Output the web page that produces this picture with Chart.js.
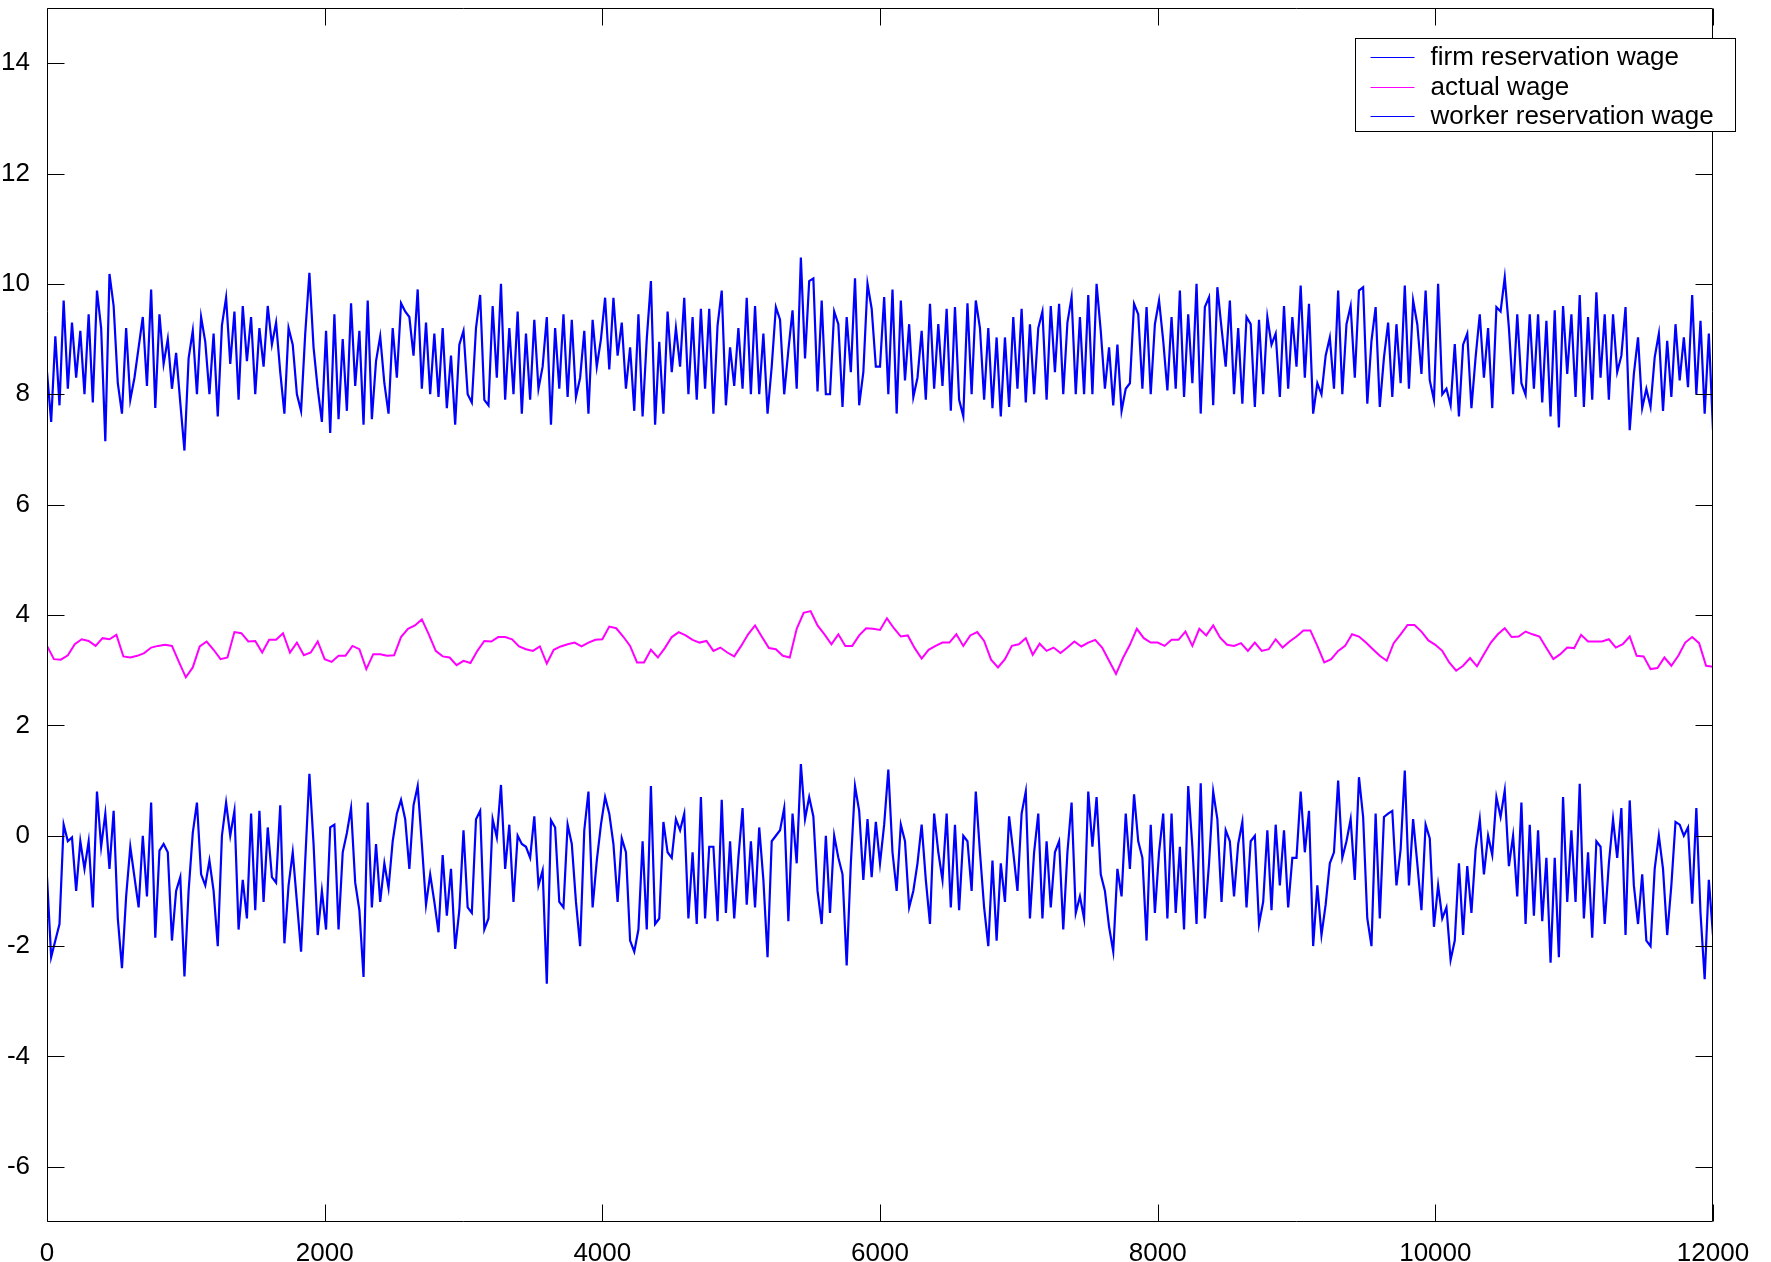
<!DOCTYPE html>
<html>
<head>
<meta charset="utf-8">
<title>wages</title>
<script src="https://cdn.jsdelivr.net/npm/chart.js@4.4.1/dist/chart.umd.min.js"></script>
<style>
  html, body { margin: 0; padding: 0; background: #fff; }
  canvas { display: block; }
</style>
</head>
<body>
<canvas id="wage-chart" width="1771" height="1262"></canvas>
<script>
// axis ticks
const xTicks = [0, 2000, 4000, 6000, 8000, 10000, 12000];
const yTicks = [-6, -4, -2, 0, 2, 4, 6, 8, 10, 12, 14];

const seriesNames = ['firm reservation wage', 'actual wage', 'worker reservation wage'];

// sampling step (periods) of the values
const wageStep = 30;
const actualStep = 50;

const firmWage = [
  8.4, 7.5, 9.05,
  7.8, 9.7, 8.1, 9.3, 8.3, 9.15, 8.0, 9.45, 7.85, 9.88, 9.2, 7.15,
  10.18, 9.6, 8.2, 7.65, 9.2, 7.9, 8.3, 8.85, 9.4, 8.15, 9.9, 7.75,
  9.45, 8.55, 9.0, 8.1, 8.75, 7.85, 6.98, 8.65, 9.15, 8.0, 9.4, 8.95,
  8.0, 9.1, 7.6, 9.25, 9.75, 8.55, 9.5, 7.9, 9.6, 8.6, 9.4, 8.0,
  9.2, 8.5, 9.6, 8.9, 9.3, 8.4, 7.65, 9.2, 8.9, 8.0, 7.7, 9.1,
  10.2, 8.85, 8.1, 7.5, 9.15, 7.3, 9.45, 7.55, 9.0, 7.7, 9.65, 8.15,
  9.15, 7.45, 9.7, 7.55, 8.6, 9.05, 8.2, 7.65, 9.2, 8.3, 9.65, 9.5,
  9.4, 8.7, 9.9, 8.1, 9.3, 8.0, 9.1, 7.95, 9.2, 7.75, 8.7, 7.45,
  8.9,
  9.15, 8.0, 7.85, 9.2, 9.8, 7.9, 7.8, 9.6, 8.3, 10.0, 7.9, 9.2,
  8.0, 9.5, 7.65, 9.1, 7.9, 9.35, 8.1, 8.5, 9.4, 7.45, 9.2, 8.1,
  9.45, 7.95, 9.35, 7.95, 8.3, 9.15, 7.65, 9.35, 8.5, 9.0, 9.75, 8.45,
  9.75, 8.7, 9.3, 8.1, 8.85, 7.7, 9.45, 7.6, 9.0, 10.05, 7.45, 8.95,
  7.65, 9.5, 8.4, 9.2, 8.5, 9.75, 8.0, 9.4, 7.9, 9.55, 8.1, 9.55,
  7.65, 9.25, 9.88, 7.8, 8.85, 8.15, 9.2, 8.1, 9.75, 8.0, 9.6, 8.0,
  9.1, 7.65, 8.5, 9.58, 9.35, 8.0, 8.8, 9.52, 8.1, 10.48, 8.65, 10.05,
  10.1, 8.05, 9.7, 8.0, 8.0, 9.5, 9.27, 7.77, 9.4, 8.4, 10.1, 7.8,
  8.4, 10.0, 9.55, 8.5,
  8.5, 9.76, 8.0, 9.9, 7.65, 9.7, 8.25, 9.27, 7.95, 8.3, 9.15, 7.9,
  9.64, 8.1, 9.27, 8.15, 9.55, 7.7, 9.58, 7.9, 7.6, 9.65, 8.0, 9.7,
  9.2, 7.9, 9.2, 7.75, 9.03, 7.6, 9.03, 7.77, 9.4, 8.1, 9.55, 7.85,
  9.27, 8.0, 9.2, 9.5, 7.9, 9.6, 8.4, 9.64, 8.0, 9.3, 9.76, 8.0,
  9.4, 8.0, 9.8, 8.0, 10.0, 9.15, 8.1, 8.85, 7.8, 8.9, 7.7, 8.1,
  8.2, 9.64, 9.45, 8.1, 9.58, 8.0, 9.27, 9.7, 8.97, 8.07, 9.4, 8.1,
  9.88, 7.95, 9.45, 8.2, 10.0, 7.65, 9.58, 9.76, 7.8, 9.94, 9.2, 8.5,
  9.7, 8.0, 9.2, 7.83, 9.4, 9.27, 7.77, 9.35, 8.0, 9.4, 8.9, 9.1,
  7.95, 9.6, 8.1, 9.4,
  8.5,
  9.97, 8.3, 9.64, 7.65, 8.2, 8.0, 8.7, 9.03, 8.1, 9.88, 8.0, 9.27,
  9.6, 8.3, 9.88, 9.94, 7.83, 8.97, 9.58, 7.77, 8.67, 9.3, 7.95, 9.27,
  8.2, 9.97, 8.1, 9.7, 9.27, 8.37, 9.88, 8.25, 7.9, 10.0, 8.0, 8.1,
  7.8, 8.91, 7.6, 8.9, 9.1, 7.75, 8.67, 9.45, 8.3, 9.2, 7.75, 9.58,
  9.5, 10.12, 9.2, 8.0, 9.45, 8.2, 7.99, 9.45, 8.1, 9.45, 7.85, 9.33,
  7.6, 9.52, 7.4, 9.6, 8.37, 9.45, 7.95, 9.8, 7.77, 9.4, 7.9, 9.85,
  8.3, 9.45, 7.9, 9.45, 8.4, 8.7, 9.58, 7.35, 8.37, 9.03, 7.75, 8.1,
  7.77, 8.67, 9.1, 7.7, 8.97, 7.95, 9.27, 8.25, 9.03, 8.13, 9.8, 8.0,
  9.33, 7.65, 9.1, 7.35
];

const actualWage = [
  3.44, 3.20, 3.19, 3.27, 3.47, 3.56, 3.53, 3.44, 3.58, 3.56, 3.64, 3.25, 3.23, 3.26, 3.31, 3.41, 3.44, 3.46, 3.44, 3.15,
  2.87, 3.05, 3.43, 3.52, 3.37, 3.20, 3.23, 3.69, 3.67, 3.52, 3.53, 3.32, 3.55, 3.55, 3.67, 3.32, 3.50, 3.27, 3.32, 3.52,
  3.20, 3.15, 3.26, 3.26, 3.44, 3.38, 3.02, 3.29, 3.29, 3.26, 3.27, 3.60, 3.75, 3.81, 3.92, 3.65, 3.35, 3.25, 3.23, 3.09,
  3.17, 3.13, 3.35, 3.53, 3.52, 3.60, 3.60, 3.56, 3.43, 3.38, 3.35, 3.43, 3.12, 3.37, 3.43, 3.47, 3.50, 3.43, 3.50, 3.55,
  3.56, 3.79, 3.76, 3.61, 3.44, 3.14, 3.14, 3.37, 3.23, 3.40, 3.60, 3.69, 3.63, 3.55, 3.50, 3.53, 3.35, 3.41, 3.32, 3.25,
  3.44, 3.65, 3.81, 3.60, 3.40, 3.38, 3.26, 3.23, 3.75, 4.04, 4.07, 3.81, 3.65, 3.47, 3.65, 3.44, 3.44, 3.63, 3.76, 3.75,
  3.73, 3.94, 3.76, 3.61, 3.63, 3.40, 3.21, 3.37, 3.44, 3.50, 3.50, 3.65, 3.44, 3.63, 3.69, 3.53, 3.19, 3.05, 3.20, 3.44,
  3.47, 3.58, 3.28, 3.48, 3.35, 3.41, 3.31, 3.41, 3.52, 3.43, 3.50, 3.55, 3.41, 3.17, 2.93, 3.22, 3.46, 3.75, 3.58, 3.50,
  3.50, 3.44, 3.55, 3.55, 3.70, 3.44, 3.75, 3.63, 3.81, 3.59, 3.46, 3.44, 3.49, 3.35, 3.50, 3.35, 3.38, 3.56, 3.41, 3.52,
  3.61, 3.72, 3.72, 3.44, 3.14, 3.20, 3.35, 3.44, 3.65, 3.61, 3.50, 3.38, 3.26, 3.17, 3.49, 3.65, 3.82, 3.82, 3.70, 3.54,
  3.46, 3.35, 3.14, 2.99, 3.08, 3.22, 3.07, 3.29, 3.50, 3.65, 3.76, 3.60, 3.61, 3.70, 3.65, 3.61, 3.40, 3.20, 3.29, 3.41,
  3.40, 3.64, 3.52, 3.52, 3.52, 3.56, 3.41, 3.47, 3.61, 3.26, 3.25, 3.02, 3.04, 3.23, 3.08, 3.26, 3.50, 3.60, 3.49, 3.08,
  3.06
];

const workerWage = [
  -0.75, -2.2, -1.9,
  -1.6, 0.2, -0.1, -0.03, -1.0, -0.1, -0.6, -0.1, -1.3, 0.8, -0.2, 0.4,
  -0.6, 0.45, -1.5, -2.4, -1.1, -0.2, -0.75, -1.3, 0.0, -1.1, 0.6, -1.85,
  -0.27, -0.15, -0.3, -1.9, -1.0, -0.75, -2.55, -1.0, 0.05, 0.6, -0.7, -0.9,
  -0.45, -1.0, -2.0, 0.0, 0.6, 0.0, 0.45, -1.7, -0.8, -1.5, 0.4, -1.35,
  0.45, -1.2, 0.15, -0.75, -0.85, 0.55, -1.95, -0.9, -0.3, -1.2, -2.1, -0.45,
  1.12, -0.15, -1.8, -1.0, -1.7, 0.15, 0.2, -1.7, -0.3, 0.05, 0.5, -0.85,
  -1.35, -2.56, 0.6, -1.3, -0.15, -1.2, -0.5, -0.95, -0.1, 0.4, 0.65, 0.3,
  -0.6, 0.55, 0.9, -0.15, -1.25, -0.7, -1.2, -1.75, -0.35, -1.45, -0.6, -2.05,
  -1.35,
  0.1, -1.3, -1.4, 0.3, 0.45, -1.7, -1.5, 0.3, -0.03, 0.92, -0.6, 0.2,
  -1.2, 0.0, -0.15, -0.2, -0.4, 0.35, -0.9, -0.63, -2.68, 0.28, 0.15, -1.2,
  -1.3, 0.2, -0.15, -1.2, -2.0, 0.1, 0.8, -1.3, -0.45, 0.2, 0.7, 0.4,
  -0.15, -1.2, -0.05, -0.3, -1.9, -2.1, -1.7, -0.1, -1.7, 0.9, -1.6, -1.5,
  0.25, -0.3, -0.4, 0.3, 0.1, 0.4, -1.5, -0.3, -1.6, 0.7, -1.5, -0.2,
  -0.2, -1.55, 0.65, -1.4, -0.1, -1.5, -0.4, 0.5, -1.25, -0.1, -1.3, 0.15,
  -0.8, -2.2, -0.1, 0.0, 0.1, 0.5, -1.55, 0.4, -0.5, 1.3, 0.3, 0.7,
  0.35, -1.0, -1.6, 0.0, -1.4, 0.0, -0.4, -0.7, -2.35, -0.5, 0.9, 0.45,
  -0.8, 0.3, -0.75, 0.25,
  -0.5, 0.2, 1.2, -0.3, -1.0, 0.2, -0.1, -1.3, -1.0, -0.5, 0.2, -0.8,
  -1.6, 0.4, -0.3, -0.8, 0.4, -1.3, 0.2, -1.35, 0.0, -0.1, -1.0, 0.8,
  -0.3, -1.3, -2.0, -0.45, -1.9, -0.5, -1.2, 0.35, -0.3, -1.0, 0.4, 0.8,
  -1.5, -0.3, 0.4, -1.5, -0.1, -1.3, -0.3, -0.1, -1.7, -0.3, 0.6, -1.4,
  -1.1, -1.5, 0.8, -0.2, 0.7, -0.7, -1.0, -1.65, -2.1, -0.6, -1.1, 0.4,
  -0.6, 0.75, -0.1, -0.4, -1.9, 0.2, -1.4, -0.3, 0.4, -1.5, 0.4, -1.4,
  -0.2, -1.7, 0.9, -0.2, -1.6, 0.95, -1.5, -0.5, 0.8, 0.3, -1.2, 0.1,
  -0.1, -1.1, -0.15, 0.25, -1.3, -0.1, 0.0, -1.6, -1.2, 0.1, -1.35, 0.2,
  -0.9, 0.1, -1.3, -0.4,
  -0.4,
  0.8, -0.3, 0.45, -2.0, -0.9, -1.8, -1.25, -0.5, -0.3, 1.0, -0.4, -0.1,
  0.3, -0.8, 1.06, 0.34, -1.5, -2.0, 0.4, -1.5, 0.34, 0.4, 0.45, -0.9,
  -0.25, 1.18, -0.9, 0.3, -0.5, -1.35, 0.2, -0.05, -1.65, -0.9, -1.5, -1.3,
  -2.25, -1.9, -0.5, -1.8, -0.55, -1.4, -0.25, 0.3, -0.7, 0.0, -0.35, 0.7,
  0.34, 0.82, -0.55, 0.0, -1.1, 0.6, -1.6, 0.2, -1.45, 0.1, -1.55, -0.4,
  -2.3, -0.4, -2.2, 0.7, -1.2, 0.1, -1.2, 0.94, -1.5, -0.3, -1.85, -0.1,
  -0.2, -1.6, -0.5, 0.3, -0.4, 0.5, -1.8, 0.64, -0.9, -1.6, -0.7, -1.9,
  -2.0, -0.6, 0.0, -0.6, -1.8, -0.9, 0.25, 0.2, 0.0, 0.15, -1.23, 0.5,
  -1.4, -2.6, -0.8, -1.8
];

const toPoints = (values, step) => values.map((v, i) => ({ x: i * step, y: v }));

Chart.defaults.font.family = '"Liberation Sans", Arial, Helvetica, sans-serif';
Chart.defaults.font.size = 26;
Chart.defaults.color = '#000';

// MATLAB style box with ticks pointing inwards on all four sides
const matlabBox = {
  id: 'matlabBox',
  afterDatasetsDraw(chart) {
    const { ctx, chartArea: a, scales: { x, y } } = chart;
    const len = 17;
    const L = Math.round(a.left) + 0.5, R = Math.round(a.right) - 0.5;
    const T = Math.round(a.top) + 0.5, B = Math.round(a.bottom) - 0.5;
    ctx.save();
    ctx.strokeStyle = '#000';
    ctx.lineWidth = 1;
    ctx.beginPath();
    ctx.rect(L, T, R - L, B - T);
    xTicks.forEach(v => {
      const px = Math.round(x.getPixelForValue(v)) + 0.5;
      ctx.moveTo(px, B); ctx.lineTo(px, B - len);
      ctx.moveTo(px, T); ctx.lineTo(px, T + len);
    });
    yTicks.forEach(v => {
      const py = Math.round(y.getPixelForValue(v)) + 0.5;
      ctx.moveTo(L, py); ctx.lineTo(L + len, py);
      ctx.moveTo(R, py); ctx.lineTo(R - len, py);
    });
    ctx.stroke();
    ctx.restore();
  }
};

const boxLegend = {
  id: 'boxLegend',
  afterDraw(chart) {
    const { ctx, chartArea: a } = chart;
    const left = Math.round(a.right) - 358 + 0.5;
    const top = Math.round(a.top) + 30 + 0.5;
    const rows = [18, 48, 77];
    ctx.save();
    ctx.fillStyle = '#fff';
    ctx.strokeStyle = '#000';
    ctx.lineWidth = 1;
    ctx.fillRect(left, top, 380, 93);
    ctx.strokeRect(left, top, 380, 93);
    ctx.font = '26px "Liberation Sans", Arial, sans-serif';
    ctx.textBaseline = 'middle';
    ctx.textAlign = 'left';
    chart.data.datasets.forEach((ds, i) => {
      const yy = Math.round(top + rows[i]) + 0.5;
      ctx.strokeStyle = ds.borderColor;
      ctx.lineWidth = 1;
      ctx.beginPath();
      ctx.moveTo(left + 15, yy);
      ctx.lineTo(left + 59, yy);
      ctx.stroke();
      ctx.fillStyle = '#000';
      ctx.fillText(ds.label, left + 75, yy);
    });
    ctx.restore();
  }
};

new Chart(document.getElementById('wage-chart').getContext('2d'), {
  type: 'line',
  plugins: [matlabBox, boxLegend],
  data: {
    datasets: [
      {
        label: seriesNames[0],
        data: toPoints(firmWage, wageStep),
        borderColor: '#0000ff',
        borderWidth: 2.2
      },
      {
        label: seriesNames[1],
        data: toPoints(actualWage, actualStep),
        borderColor: '#ff00ff',
        borderWidth: 2
      },
      {
        label: seriesNames[2],
        data: toPoints(workerWage, wageStep),
        borderColor: '#0000ff',
        borderWidth: 2.2
      }
    ]
  },
  options: {
    responsive: false,
    animation: false,
    devicePixelRatio: 1,
    layout: { padding: { top: 8, right: 58, bottom: 0, left: 0 } },
    elements: {
      point: { radius: 0, hoverRadius: 0 },
      line: { tension: 0, fill: false, borderJoinStyle: 'miter' }
    },
    plugins: {
      legend: { display: false },
      title: { display: false },
      tooltip: { enabled: false }
    },
    scales: {
      x: {
        type: 'linear',
        min: 0,
        max: 12000,
        afterBuildTicks: s => { s.ticks = xTicks.map(value => ({ value })); },
        afterFit: s => { s.height = 40; s.paddingLeft = 0; s.paddingRight = 0; },
        grid: { display: false },
        border: { display: false },
        ticks: { padding: 8, maxRotation: 0, autoSkip: false, callback: v => String(v) }
      },
      y: {
        type: 'linear',
        min: -7,
        max: 15,
        afterBuildTicks: s => { s.ticks = yTicks.map(value => ({ value })); },
        afterFit: s => { s.width = 47; s.paddingTop = 0; s.paddingBottom = 0; },
        grid: { display: false },
        border: { display: false },
        ticks: { padding: 9, autoSkip: false, callback: v => String(v) }
      }
    }
  }
});
</script>
</body>
</html>
